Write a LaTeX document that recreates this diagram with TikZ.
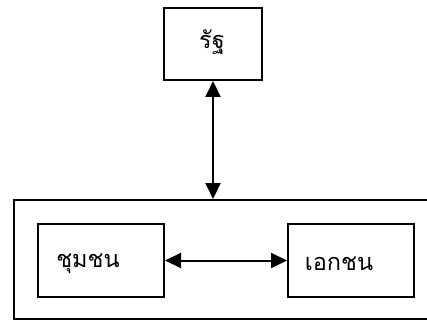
\documentclass[tikz,border=0pt]{standalone}
\usepackage{fontspec}
\newfontfamily\thaifont[Script=Thai]{Loma}
\usetikzlibrary{arrows.meta}
\begin{document}
\begin{tikzpicture}[x=1pt,y=-1pt,
  box/.style={draw,line width=2pt,inner sep=0pt,anchor=north west},
  lbl/.style={font=\thaifont\fontsize{23.5}{28}\selectfont,inner sep=0pt},
  conn/.style={line width=2pt,{Triangle[length=16pt,width=15pt]}-{Triangle[length=16pt,width=15pt]}}]
\useasboundingbox (0,0) rectangle (427,320);
\node[box,minimum width=98pt,minimum height=72pt] (state) at (163,7) {};
\node[lbl] (statet) at (212,42) {รัฐ};
\node[box,minimum width=430pt,minimum height=119pt] (outer) at (13,199) {};
\node[box,minimum width=126pt,minimum height=73pt] (comm) at (37,223) {};
\node[box,minimum width=126pt,minimum height=73pt] (priv) at (287,223) {};
\node[lbl] (commt) at (88,264) {ชุมชน};
\node[lbl] (privt) at (339,264) {เอกชน};
\draw[conn] (state.south) -- (state.south |- outer.north);
\draw[conn] (comm.east) -- (priv.west);
\end{tikzpicture}
\end{document}
